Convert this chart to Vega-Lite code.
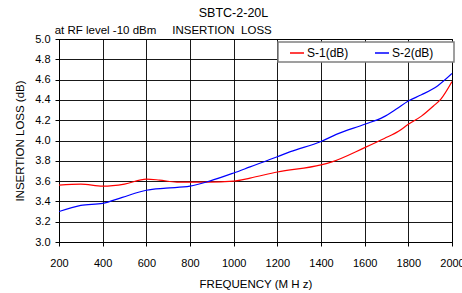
{
  "$schema": "https://vega.github.io/schema/vega-lite/v6.json",
  "width": 393,
  "height": 203,
  "autosize": {"type": "none"},
  "padding": {"left": 59, "top": 39, "right": 10, "bottom": 51},
  "background": "white",
  "title": {
    "text": "SBTC-2-20L",
    "subtitle": "at RF level -10 dBm\u00a0\u00a0\u00a0\u00a0\u00a0INSERTION\u00a0\u00a0LOSS\u00a0\u00a0\u00a0\u00a0\u00a0\u00a0\u00a0\u00a0\u00a0\u00a0\u00a0\u00a0\u00a0\u00a0\u00a0\u00a0\u00a0\u00a0\u00a0\u00a0\u00a0\u00a0\u00a0\u00a0\u00a0\u00a0\u00a0\u00a0\u00a0\u00a0\u00a0\u00a0\u00a0\u00a0\u00a0\u00a0\u00a0\u00a0\u00a0\u00a0\u00a0\u00a0\u00a0\u00a0\u200b",
    "anchor": "middle",
    "frame": "group",
    "dx": -22,
    "offset": -3,
    "font": "Liberation Sans",
    "fontSize": 12.5,
    "fontWeight": "normal",
    "color": "black",
    "subtitleFont": "Liberation Sans",
    "subtitleFontSize": 11.5,
    "subtitleColor": "black",
    "subtitlePadding": 5
  },
  "data": {
    "values": [
      {"f": 200, "v": 3.56, "s": "S-1(dB)"},
      {"f": 300, "v": 3.57, "s": "S-1(dB)"},
      {"f": 400, "v": 3.55, "s": "S-1(dB)"},
      {"f": 500, "v": 3.57, "s": "S-1(dB)"},
      {"f": 600, "v": 3.62, "s": "S-1(dB)"},
      {"f": 660, "v": 3.61, "s": "S-1(dB)"},
      {"f": 740, "v": 3.59, "s": "S-1(dB)"},
      {"f": 800, "v": 3.59, "s": "S-1(dB)"},
      {"f": 880, "v": 3.59, "s": "S-1(dB)"},
      {"f": 1000, "v": 3.6, "s": "S-1(dB)"},
      {"f": 1075, "v": 3.63, "s": "S-1(dB)"},
      {"f": 1200, "v": 3.69, "s": "S-1(dB)"},
      {"f": 1400, "v": 3.76, "s": "S-1(dB)"},
      {"f": 1450, "v": 3.79, "s": "S-1(dB)"},
      {"f": 1600, "v": 3.93, "s": "S-1(dB)"},
      {"f": 1690, "v": 4.02, "s": "S-1(dB)"},
      {"f": 1755, "v": 4.09, "s": "S-1(dB)"},
      {"f": 1800, "v": 4.16, "s": "S-1(dB)"},
      {"f": 1860, "v": 4.24, "s": "S-1(dB)"},
      {"f": 1915, "v": 4.34, "s": "S-1(dB)"},
      {"f": 1950, "v": 4.41, "s": "S-1(dB)"},
      {"f": 2000, "v": 4.58, "s": "S-1(dB)"},
      {"f": 200, "v": 3.3, "s": "S-2(dB)"},
      {"f": 300, "v": 3.36, "s": "S-2(dB)"},
      {"f": 400, "v": 3.38, "s": "S-2(dB)"},
      {"f": 490, "v": 3.44, "s": "S-2(dB)"},
      {"f": 600, "v": 3.51, "s": "S-2(dB)"},
      {"f": 690, "v": 3.53, "s": "S-2(dB)"},
      {"f": 800, "v": 3.55, "s": "S-2(dB)"},
      {"f": 890, "v": 3.6, "s": "S-2(dB)"},
      {"f": 1000, "v": 3.68, "s": "S-2(dB)"},
      {"f": 1075, "v": 3.74, "s": "S-2(dB)"},
      {"f": 1200, "v": 3.84, "s": "S-2(dB)"},
      {"f": 1260, "v": 3.89, "s": "S-2(dB)"},
      {"f": 1400, "v": 3.99, "s": "S-2(dB)"},
      {"f": 1470, "v": 4.06, "s": "S-2(dB)"},
      {"f": 1600, "v": 4.16, "s": "S-2(dB)"},
      {"f": 1685, "v": 4.23, "s": "S-2(dB)"},
      {"f": 1745, "v": 4.31, "s": "S-2(dB)"},
      {"f": 1800, "v": 4.39, "s": "S-2(dB)"},
      {"f": 1860, "v": 4.45, "s": "S-2(dB)"},
      {"f": 1935, "v": 4.54, "s": "S-2(dB)"},
      {"f": 2000, "v": 4.66, "s": "S-2(dB)"}
    ]
  },
  "mark": {"type": "line", "interpolate": "monotone", "strokeWidth": 1.2, "clip": true},
  "encoding": {
    "x": {
      "field": "f",
      "type": "quantitative",
      "scale": {"domain": [200, 2000], "nice": false, "zero": false},
      "axis": {
        "values": [200, 400, 600, 800, 1000, 1200, 1400, 1600, 1800, 2000],
        "format": "d",
        "title": "FREQUENCY (M H z)",
        "labelPadding": 11,
        "titlePadding": 10,
        "labelFlush": false,
        "labelOverlap": false
      }
    },
    "y": {
      "field": "v",
      "type": "quantitative",
      "scale": {"domain": [3.0, 5.0], "nice": false, "zero": false},
      "axis": {
        "values": [3.0, 3.2, 3.4, 3.6, 3.8, 4.0, 4.2, 4.4, 4.6, 4.8, 5.0],
        "format": ".1f",
        "title": "INSERTION LOSS (dB)",
        "labelPadding": 5,
        "titlePadding": 9,
        "labelFlush": false,
        "labelOverlap": false
      }
    },
    "color": {
      "field": "s",
      "type": "nominal",
      "scale": {"domain": ["S-1(dB)", "S-2(dB)"], "range": ["#ff0000", "#0000ff"]},
      "legend": {
        "title": null,
        "orient": "none",
        "legendX": 219,
        "legendY": 3,
        "direction": "horizontal",
        "symbolType": "stroke",
        "symbolSize": 196,
        "symbolStrokeWidth": 1.5,
        "symbolOffset": 8,
        "labelExpr": "datum.label + '\u00a0\u00a0\u00a0\u00a0\u00a0\u200b'",
        "labelFont": "Liberation Sans",
        "labelFontSize": 12,
        "labelColor": "black",
        "labelOffset": 2,
        "columnPadding": 0,
        "fillColor": "white",
        "strokeColor": "#808080",
        "padding": 3
      }
    }
  },
  "config": {
    "view": {"stroke": "black", "strokeWidth": 1},
    "axis": {
      "grid": true,
      "gridColor": "black",
      "gridOpacity": 0.9,
      "gridWidth": 1,
      "domainColor": "black",
      "tickColor": "black",
      "tickSize": 4,
      "labelFont": "Liberation Sans",
      "labelFontSize": 11,
      "labelColor": "black",
      "titleFont": "Liberation Sans",
      "titleFontSize": 11.5,
      "titleFontWeight": "normal",
      "titleColor": "black"
    },
    "legend": {"strokeWidth": 1.5}
  }
}
